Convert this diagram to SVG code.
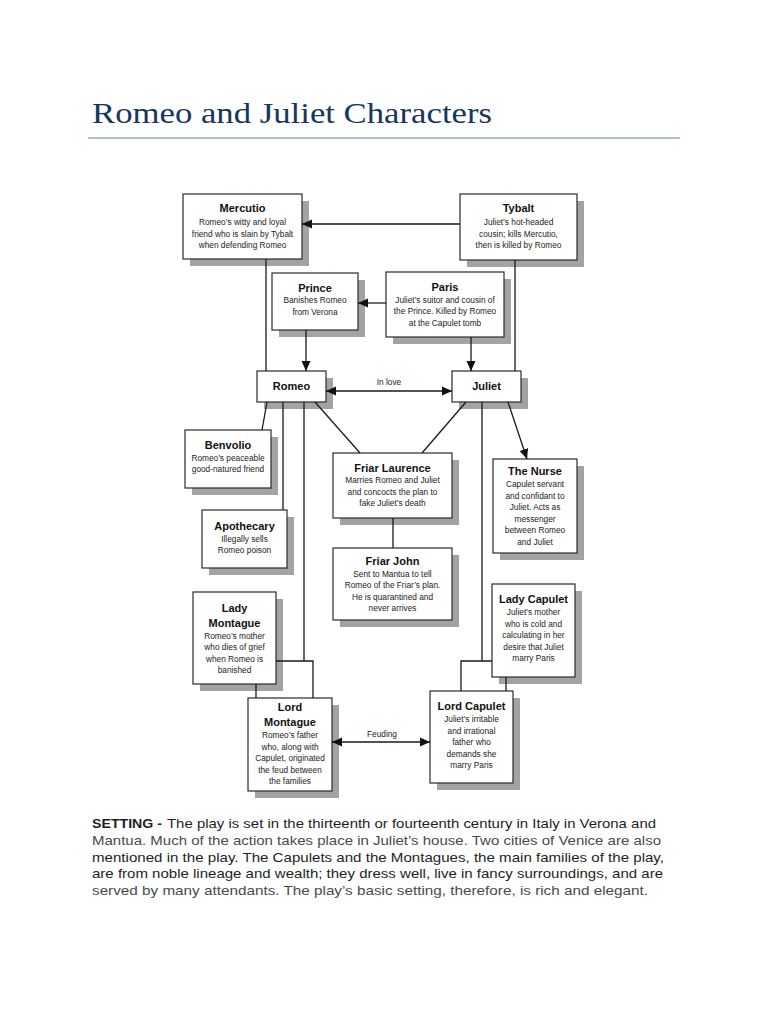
<svg xmlns="http://www.w3.org/2000/svg" width="768" height="1024" viewBox="0 0 768 1024">
<style>
.sh{fill:#a3a3a3}
.bx{fill:#fff;stroke:#2a2a2a;stroke-width:1.2}
.t{font-family:"Liberation Sans",Arial,sans-serif;font-weight:bold;font-size:11px;fill:#111;text-anchor:middle}
.d{font-family:"Liberation Sans",Arial,sans-serif;font-size:8.3px;fill:#222;text-anchor:middle}
.c{fill:none;stroke:#1a1a1a;stroke-width:1.3}
.lb{font-family:"Liberation Sans",Arial,sans-serif;font-size:8.3px;fill:#222;text-anchor:middle}
.p{font-family:"Liberation Sans",Arial,sans-serif;font-size:13.6px;fill:#1e1e1e}
.pl{fill:#4a4a4a}
</style>
<defs>
<marker id="ah" viewBox="0 0 10 10" refX="10" refY="5" markerWidth="10" markerHeight="10" markerUnits="userSpaceOnUse" orient="auto-start-reverse">
<path d="M0,0.5 L10,5 L0,9.5 Z" fill="#111"/>
</marker>
</defs>
<rect width="768" height="1024" fill="#fff"/>

<g id="title">
<text x="92" y="123" font-family="'Liberation Serif','DejaVu Serif',serif" font-size="30" fill="#17365d" textLength="400" lengthAdjust="spacingAndGlyphs">Romeo and Juliet Characters</text>
<line x1="88" y1="138" x2="680" y2="138" stroke="#8eaacb" stroke-width="1.4"/>
</g>

<g id="mercutio">
<rect class="sh" x="190" y="201" width="119" height="65"/>
<rect class="bx" x="183" y="194" width="119" height="65"/>
<text class="t" x="242.5" y="212">Mercutio</text>
<text class="d" x="242.5" y="225">Romeo’s witty and loyal</text>
<text class="d" x="242.5" y="236.5">friend who is slain by Tybalt</text>
<text class="d" x="242.5" y="248">when defending Romeo</text>
</g>

<g id="tybalt">
<rect class="sh" x="467" y="201" width="117" height="66"/>
<rect class="bx" x="460" y="194" width="117" height="66"/>
<text class="t" x="518.5" y="212">Tybalt</text>
<text class="d" x="518.5" y="225">Juliet’s hot-headed</text>
<text class="d" x="518.5" y="236.5">cousin; kills Mercutio,</text>
<text class="d" x="518.5" y="248">then is killed by Romeo</text>
</g>

<g id="prince">
<rect class="sh" x="279" y="280" width="86" height="57"/>
<rect class="bx" x="272" y="273" width="86" height="57"/>
<text class="t" x="315" y="292">Prince</text>
<text class="d" x="315" y="303">Banishes Romeo</text>
<text class="d" x="315" y="314.5">from Verona</text>
</g>

<g id="paris">
<rect class="sh" x="393" y="279" width="118" height="65"/>
<rect class="bx" x="386" y="272" width="118" height="65"/>
<text class="t" x="445" y="291">Paris</text>
<text class="d" x="445" y="302.5">Juliet’s suitor and cousin of</text>
<text class="d" x="445" y="314">the Prince. Killed by Romeo</text>
<text class="d" x="445" y="325.5">at the Capulet tomb</text>
</g>

<g id="romeo">
<rect class="sh" x="264" y="378" width="69" height="31"/>
<rect class="bx" x="257" y="371" width="69" height="31"/>
<text class="t" x="291.5" y="390">Romeo</text>
</g>

<g id="juliet">
<rect class="sh" x="459" y="378" width="69" height="31"/>
<rect class="bx" x="452" y="371" width="69" height="31"/>
<text class="t" x="486.5" y="390">Juliet</text>
</g>

<g id="benvolio">
<rect class="sh" x="192" y="437" width="86" height="58"/>
<rect class="bx" x="185" y="430" width="86" height="58"/>
<text class="t" x="228" y="449">Benvolio</text>
<text class="d" x="228" y="461">Romeo’s peaceable</text>
<text class="d" x="228" y="472">good-natured friend</text>
</g>

<g id="apothecary">
<rect class="sh" x="209" y="517" width="85" height="58"/>
<rect class="bx" x="202" y="510" width="85" height="58"/>
<text class="t" x="244.5" y="530">Apothecary</text>
<text class="d" x="244.5" y="542">Illegally sells</text>
<text class="d" x="244.5" y="553">Romeo poison</text>
</g>

<g id="friar-laurence">
<rect class="sh" x="340" y="460" width="119" height="65"/>
<rect class="bx" x="333" y="453" width="119" height="65"/>
<text class="t" x="392.5" y="472">Friar Laurence</text>
<text class="d" x="392.5" y="483">Marries Romeo and Juliet</text>
<text class="d" x="392.5" y="494.5">and concocts the plan to</text>
<text class="d" x="392.5" y="506">fake Juliet’s death</text>
</g>

<g id="friar-john">
<rect class="sh" x="340" y="555" width="119" height="72"/>
<rect class="bx" x="333" y="548" width="119" height="72"/>
<text class="t" x="392.5" y="565">Friar John</text>
<text class="d" x="392.5" y="576.5">Sent to Mantua to tell</text>
<text class="d" x="392.5" y="588">Romeo of the Friar’s plan.</text>
<text class="d" x="392.5" y="599.5">He is quarantined and</text>
<text class="d" x="392.5" y="611">never arrives</text>
</g>

<g id="the-nurse">
<rect class="sh" x="500" y="466" width="84" height="94"/>
<rect class="bx" x="493" y="459" width="84" height="94"/>
<text class="t" x="535" y="475">The Nurse</text>
<text class="d" x="535" y="487">Capulet servant</text>
<text class="d" x="535" y="498.5">and confidant to</text>
<text class="d" x="535" y="510">Juliet. Acts as</text>
<text class="d" x="535" y="521.5">messenger</text>
<text class="d" x="535" y="533">between Romeo</text>
<text class="d" x="535" y="544.5">and Juliet</text>
</g>

<g id="lady-montague">
<rect class="sh" x="200" y="599" width="83" height="92"/>
<rect class="bx" x="193" y="592" width="83" height="92"/>
<text class="t" x="234.5" y="612">Lady</text>
<text class="t" x="234.5" y="627">Montague</text>
<text class="d" x="234.5" y="638.5">Romeo’s mother</text>
<text class="d" x="234.5" y="650">who dies of grief</text>
<text class="d" x="234.5" y="661.5">when Romeo is</text>
<text class="d" x="234.5" y="673">banished</text>
</g>

<g id="lord-montague">
<rect class="sh" x="255" y="705" width="84" height="93"/>
<rect class="bx" x="248" y="698" width="84" height="93"/>
<text class="t" x="290" y="711">Lord</text>
<text class="t" x="290" y="726">Montague</text>
<text class="d" x="290" y="738">Romeo’s father</text>
<text class="d" x="290" y="749.5">who, along with</text>
<text class="d" x="290" y="761">Capulet, originated</text>
<text class="d" x="290" y="772.5">the feud between</text>
<text class="d" x="290" y="784">the families</text>
</g>

<g id="lady-capulet">
<rect class="sh" x="499" y="591" width="83" height="93"/>
<rect class="bx" x="492" y="584" width="83" height="93"/>
<text class="t" x="533.5" y="603">Lady Capulet</text>
<text class="d" x="533.5" y="615">Juliet’s mother</text>
<text class="d" x="533.5" y="626.5">who is cold and</text>
<text class="d" x="533.5" y="638">calculating in her</text>
<text class="d" x="533.5" y="649.5">desire that Juliet</text>
<text class="d" x="533.5" y="661">marry Paris</text>
</g>

<g id="lord-capulet">
<rect class="sh" x="437" y="698" width="83" height="92"/>
<rect class="bx" x="430" y="691" width="83" height="92"/>
<text class="t" x="471.5" y="710">Lord Capulet</text>
<text class="d" x="471.5" y="722">Juliet’s irritable</text>
<text class="d" x="471.5" y="733.5">and irrational</text>
<text class="d" x="471.5" y="745">father who</text>
<text class="d" x="471.5" y="756.5">demands she</text>
<text class="d" x="471.5" y="768">marry Paris</text>
</g>

<g id="connectors">
<line class="c" x1="460" y1="224" x2="302" y2="224" marker-end="url(#ah)"/>
<line class="c" x1="386" y1="303" x2="358" y2="303" marker-end="url(#ah)"/>
<line class="c" x1="266" y1="259" x2="266" y2="371"/>
<line class="c" x1="306" y1="330" x2="306" y2="371" marker-end="url(#ah)"/>
<line class="c" x1="471" y1="337" x2="471" y2="371" marker-end="url(#ah)"/>
<line class="c" x1="515" y1="260" x2="515" y2="371"/>
<line class="c" x1="326" y1="391" x2="452" y2="391" marker-start="url(#ah)" marker-end="url(#ah)"/>
<text class="lb" x="389" y="385">In love</text>
<line class="c" x1="267" y1="402" x2="262" y2="430"/>
<line class="c" x1="283" y1="402" x2="283" y2="510"/>
<polyline class="c" points="304,402 304,661"/>
<polyline class="c" points="276,661 313,661 313,698"/>
<line class="c" x1="256" y1="684" x2="256" y2="698"/>
<line class="c" x1="315" y1="402" x2="360" y2="453"/>
<line class="c" x1="466" y1="402" x2="422" y2="453"/>
<line class="c" x1="393" y1="518" x2="393" y2="548"/>
<line class="c" x1="508" y1="402" x2="527" y2="459" marker-end="url(#ah)"/>
<polyline class="c" points="482,402 482,661"/>
<polyline class="c" points="492,661 461,661 461,691"/>
<line class="c" x1="506" y1="677" x2="506" y2="691"/>
<line class="c" x1="332" y1="742" x2="430" y2="742" marker-start="url(#ah)" marker-end="url(#ah)"/>
<text class="lb" x="382" y="737">Feuding</text>
</g>

<g id="setting">
<text class="p" x="92" y="828" font-weight="bold" textLength="70" lengthAdjust="spacingAndGlyphs">SETTING -</text>
<text class="p" x="167" y="828" textLength="489" lengthAdjust="spacingAndGlyphs">The play is set in the thirteenth or fourteenth century in Italy in Verona and</text>
<text class="p pl" x="92" y="845" textLength="569" lengthAdjust="spacingAndGlyphs">Mantua. Much of the action takes place in Juliet’s house. Two cities of Venice are also</text>
<text class="p" x="92" y="861.5" textLength="572" lengthAdjust="spacingAndGlyphs">mentioned in the play. The Capulets and the Montagues, the main families of the play,</text>
<text class="p" x="92" y="878" textLength="571" lengthAdjust="spacingAndGlyphs">are from noble lineage and wealth; they dress well, live in fancy surroundings, and are</text>
<text class="p pl" x="92" y="895" textLength="556" lengthAdjust="spacingAndGlyphs">served by many attendants. The play’s basic setting, therefore, is rich and elegant.</text>
</g>
</svg>
